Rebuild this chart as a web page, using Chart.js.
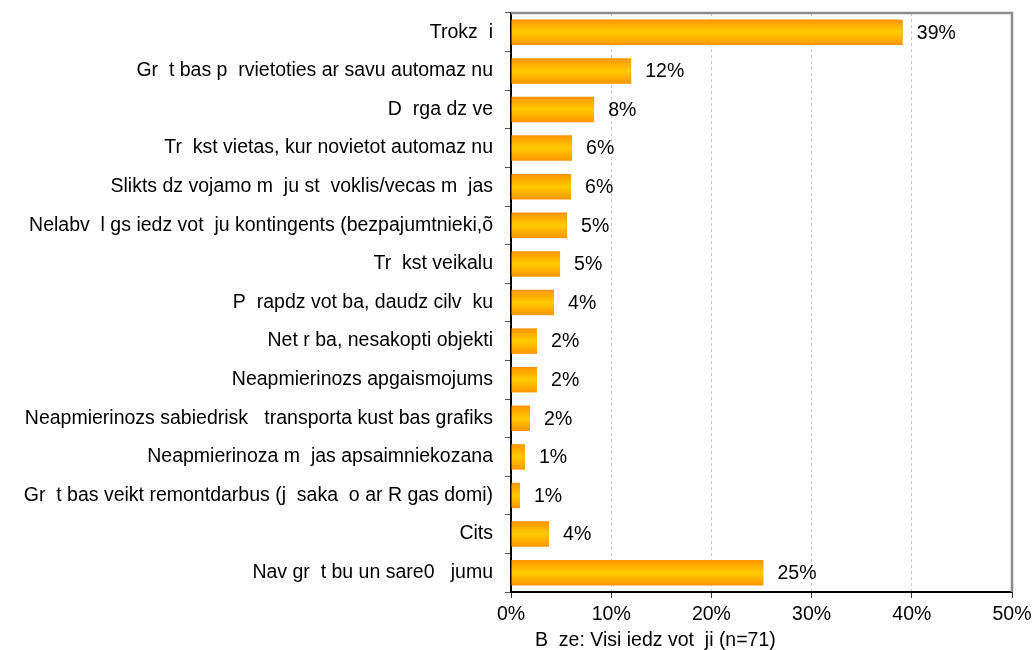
<!DOCTYPE html>
<html>
<head>
<meta charset="utf-8">
<script src="https://cdn.jsdelivr.net/npm/chart.js@4.4.1/dist/chart.umd.min.js"></script>
<style>
  html, body { margin: 0; padding: 0; background: #fff; }
  #wrap { width: 1034px; height: 650px; }
</style>
</head>
<body>
<div id="wrap"><canvas id="chart" width="1034" height="650"></canvas></div>
<script>
const labels = [
  "Trokz  i",
  "Gr  t bas p  rvietoties ar savu automaz nu",
  "D  rga dz ve",
  "Tr  kst vietas, kur novietot automaz nu",
  "Slikts dz vojamo m  ju st  voklis/vecas m  jas",
  "Nelabv  l gs iedz vot  ju kontingents (bezpajumtnieki,õ",
  "Tr  kst veikalu",
  "P  rapdz vot ba, daudz cilv  ku",
  "Net r ba, nesakopti objekti",
  "Neapmierinozs apgaismojums",
  "Neapmierinozs sabiedrisk   transporta kust bas grafiks",
  "Neapmierinoza m  jas apsaimniekozana",
  "Gr  t bas veikt remontdarbus (j  saka  o ar R gas domi)",
  "Cits",
  "Nav gr  t bu un sare0   jumu"
];
const values = [39.1, 12.0, 8.3, 6.1, 6.0, 5.6, 4.9, 4.3, 2.6, 2.6, 1.9, 1.4, 0.9, 3.8, 25.2];
const valueLabels = ["39%", "12%", "8%", "6%", "6%", "5%", "5%", "4%", "2%", "2%", "2%", "1%", "1%", "4%", "25%"];
const xTicks = [0, 10, 20, 30, 40, 50];
const baseNote = "B  ze: Visi iedz vot  ji (n=71)";

const FONT = "'Liberation Sans', Arial, sans-serif";
const FSIZE = 19.5;
const BAR_PCT = 0.66;

function barFill(ctx) {
  const chart = ctx.chart;
  const y = chart.scales.y;
  if (!y || ctx.dataIndex === undefined) return "#ffb000";
  const c = y.getPixelForValue(ctx.dataIndex);
  const h = (y.bottom - y.top) / labels.length * BAR_PCT / 2;
  if (!isFinite(c) || !isFinite(h) || h <= 0) return "#ffb000";
  const g = chart.ctx.createLinearGradient(0, c - h, 0, c + h);
  g.addColorStop(0, "#ff9400");
  g.addColorStop(0.5, "#ffcc00");
  g.addColorStop(1, "#ff9400");
  return g;
}

const framePlugin = {
  id: "frame",
  beforeDatasetsDraw(chart) {
    const { ctx, chartArea: a } = chart;
    ctx.save();
    ctx.strokeStyle = "#8c8c8c";
    ctx.lineWidth = 2.5;
    ctx.beginPath();
    ctx.moveTo(a.left, a.top);
    ctx.lineTo(a.right, a.top);
    ctx.lineTo(a.right, a.bottom);
    ctx.stroke();
    ctx.restore();
  },
  afterDatasetsDraw(chart) {
    const { ctx, chartArea: a } = chart;
    const meta = chart.getDatasetMeta(0);
    ctx.save();
    ctx.font = FSIZE + "px " + FONT;
    ctx.fillStyle = "#000";
    ctx.textBaseline = "middle";
    ctx.textAlign = "left";
    meta.data.forEach((bar, i) => {
      ctx.fillText(valueLabels[i], bar.x + 14, bar.y + 1);
    });
    ctx.fillText(baseNote, a.left + 24, 641);
    ctx.restore();
  }
};

const chart = new Chart(document.getElementById("chart"), {
  type: "bar",
  data: {
    labels: labels,
    datasets: [{
      data: values,
      backgroundColor: barFill,
      borderWidth: 0,
      barPercentage: BAR_PCT,
      categoryPercentage: 1.0
    }]
  },
  options: {
    indexAxis: "y",
    responsive: false,
    animation: false,
    layout: { padding: { left: 0, right: 22, top: 13, bottom: 0 } },
    plugins: { legend: { display: false }, tooltip: { enabled: false } },
    scales: {
      x: {
        min: 0,
        max: 50,
        afterBuildTicks: s => { s.ticks = xTicks.map(v => ({ value: v })); },
        afterFit: s => { s.height = 58; s.paddingLeft = 0; s.paddingRight = 0; },
        ticks: {
          callback: v => v + "%",
          color: "#000",
          font: { family: FONT, size: FSIZE },
          padding: 5
        },
        grid: {
          color: "#c8c8c8",
          tickColor: "#333",
          tickLength: 6,
          lineWidth: 1,
          tickBorderDash: []
        },
        border: { color: "#000", width: 2, dash: [3, 3] }
      },
      y: {
        afterFit: s => { s.width = 511; s.paddingTop = 0; s.paddingBottom = 0; },
        ticks: {
          color: "#000",
          font: { family: FONT, size: FSIZE },
          padding: 12,
          autoSkip: false
        },
        grid: {
          offset: true,
          drawOnChartArea: false,
          tickColor: "#555",
          tickLength: 6
        },
        border: { color: "#000", width: 2 }
      }
    }
  },
  plugins: [framePlugin]
});
chart.update();
</script>
</body>
</html>
